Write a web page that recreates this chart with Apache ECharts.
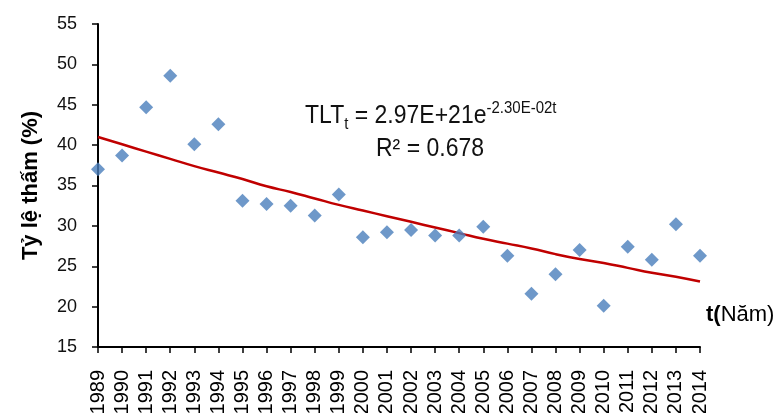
<!DOCTYPE html>
<html>
<head>
<meta charset="utf-8">
<script src="https://cdn.jsdelivr.net/npm/echarts@6/dist/echarts.min.js"></script>
<style>
html,body{margin:0;padding:0;background:#fff;}
#c{width:777px;height:413px;}
</style>
</head>
<body>
<div id="c"></div>
<script>
var years = ['1989','1990','1991','1992','1993','1994','1995','1996','1997','1998','1999','2000','2001','2002','2003','2004','2005','2006','2007','2008','2009','2010','2011','2012','2013','2014'];
var observed = [37.0,38.7,44.7,48.6,40.1,42.6,33.1,32.7,32.5,31.3,33.9,28.6,29.2,29.5,28.8,28.8,29.9,26.3,21.6,24.0,27.0,20.1,27.4,25.8,30.2,26.3];
var trend = [41.0,40.1,39.2,38.3,37.4,36.6,35.8,34.9,34.2,33.4,32.6,31.9,31.2,30.5,29.8,29.1,28.4,27.8,27.2,26.5,25.9,25.4,24.8,24.2,23.7,23.1];
var yTicks = {min:15, max:55, interval:5};
var yAxisTitle = 'Tỷ lệ thấm (%)';
var FONT = '"Liberation Sans", Arial, sans-serif';

var chart = echarts.init(document.getElementById('c'), null, {renderer:'canvas'});
chart.setOption({
  animation:false,
  backgroundColor:'#fff',
  grid:{left:98, right:77, top:24, bottom:66, containLabel:false, outerBoundsMode:'none'},
  xAxis:{
    type:'category', data:years, boundaryGap:false,
    axisLine:{lineStyle:{color:'#000', width:2}},
    axisTick:{show:true, inside:false, length:6, lineStyle:{color:'#000', width:1.5}},
    axisLabel:{rotate:90, margin:23, fontSize:20, color:'#000', fontFamily:FONT, interval:0},
    splitLine:{show:false}
  },
  yAxis:{
    type:'value', min:yTicks.min, max:yTicks.max, interval:yTicks.interval,
    name:yAxisTitle, nameLocation:'middle', nameGap:56, nameRotate:90,
    nameTextStyle:{fontSize:22, fontWeight:'bold', color:'#000', fontFamily:FONT},
    axisLine:{show:true, lineStyle:{color:'#000', width:2}},
    axisTick:{show:true, inside:false, length:6, lineStyle:{color:'#000', width:1.5}},
    axisLabel:{margin:21, fontSize:18, color:'#111', fontFamily:FONT},
    splitLine:{show:false}
  },
  series:[
    {type:'line', data:trend, smooth:true, showSymbol:false, symbol:'none',
     lineStyle:{color:'#C00000', width:2.5}, z:2},
    {type:'scatter', data:observed, symbol:'diamond', symbolSize:14,
     itemStyle:{color:'#4A7EBB'}, z:3}
  ],
  graphic:[
    {type:'text', left:305, top:100, z:10, scaleY:1.1,
     style:{
       text:'{a|TLT}{b|t}{a| = 2.97E+21e}{c|-2.30E-02t}',
       fontFamily:FONT,
       rich:{
         a:{fontSize:23, fontFamily:FONT, fill:'#111', lineHeight:30, verticalAlign:'middle'},
         b:{fontSize:15, fontFamily:FONT, fill:'#111', lineHeight:30, verticalAlign:'bottom'},
         c:{fontSize:15, fontFamily:FONT, fill:'#111', lineHeight:30, verticalAlign:'top'}
       }
     }},
    {type:'text', left:376, top:136, z:10, scaleY:1.1,
     style:{text:'R² = 0.678', fontSize:23, fontFamily:FONT, fill:'#111'}},
    {type:'text', left:706, top:304, z:10,
     style:{
       text:'{b|t(}{n|Năm)}',
       rich:{
         b:{fontSize:22, fontWeight:'bold', fontFamily:FONT, fill:'#000'},
         n:{fontSize:22, fontFamily:FONT, fill:'#000'}
       }
     }}
  ]
});
</script>
</body>
</html>
